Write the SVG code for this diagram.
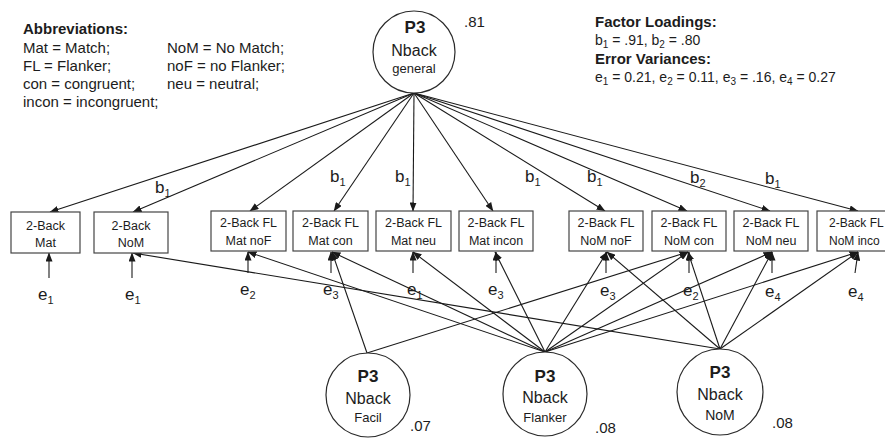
<svg xmlns="http://www.w3.org/2000/svg" width="885" height="439" viewBox="0 0 885 439">
  <defs>
    <marker id="ah" markerUnits="userSpaceOnUse" markerWidth="9" markerHeight="7" refX="8.5" refY="3.5" orient="auto">
      <path d="M0,0 L9,3.5 L0,7 Z" fill="#1a1a1a"/>
    </marker>
  </defs>
  <style>
    text{font-family:"Liberation Sans",Arial,sans-serif;fill:#1c1c1c}
    .hd{font-weight:bold;font-size:15px}
    .ab{font-size:15px}
    .ld{font-size:14px}
    .sub{font-size:10px}
    .fac{fill:#fff;stroke:#2a2a2a;stroke-width:1.2}
    .box{fill:#fff;stroke:#454545;stroke-width:1.2}
    .bx{font-size:12.5px;text-anchor:middle}
    .cn line{stroke:#1a1a1a;stroke-width:1.1;marker-end:url(#ah)}
    .p3{font-weight:bold;font-size:17px;text-anchor:middle}
    .nb{font-size:16px;text-anchor:middle}
    .sm{font-size:13px;text-anchor:middle}
    .var{font-size:15px}
    .lbl{font-size:17px}
    .ls{font-size:11px}
  </style>

  <!-- legend: abbreviations -->
  <g id="legend-abbreviations">
    <text class="hd" x="23" y="34">Abbreviations:</text>
    <text class="ab" x="23" y="53">Mat = Match;</text>
    <text class="ab" x="23" y="71">FL = Flanker;</text>
    <text class="ab" x="23" y="89">con = congruent;</text>
    <text class="ab" x="23" y="107">incon = incongruent;</text>
    <text class="ab" x="167" y="53">NoM = No Match;</text>
    <text class="ab" x="167" y="71">noF = no Flanker;</text>
    <text class="ab" x="167" y="89">neu = neutral;</text>
  </g>

  <!-- legend: parameter estimates -->
  <g id="legend-estimates">
    <text class="hd" x="595" y="27">Factor Loadings:</text>
    <text class="ld" x="595" y="45">b<tspan class="sub" dy="3">1</tspan><tspan dy="-3"> = .91, b</tspan><tspan class="sub" dy="3">2</tspan><tspan dy="-3"> = .80</tspan></text>
    <text class="hd" x="595" y="64">Error Variances:</text>
    <text class="ld" x="595" y="82">e<tspan class="sub" dy="3">1</tspan><tspan dy="-3"> = 0.21, e</tspan><tspan class="sub" dy="3">2</tspan><tspan dy="-3"> = 0.11, e</tspan><tspan class="sub" dy="3">3</tspan><tspan dy="-3"> = .16, e</tspan><tspan class="sub" dy="3">4</tspan><tspan dy="-3"> = 0.27</tspan></text>
  </g>

  <!-- paths: factors to indicators, error terms to indicators -->
  <g id="connectors" class="cn">
    <!-- general factor loadings -->
    <line x1="414" y1="93" x2="50" y2="212"/>
    <line x1="414" y1="93" x2="133" y2="212"/>
    <line x1="414" y1="93" x2="250" y2="211"/>
    <line x1="414" y1="93" x2="334" y2="211"/>
    <line x1="414" y1="93" x2="413" y2="211"/>
    <line x1="414" y1="93" x2="493" y2="211"/>
    <line x1="414" y1="93" x2="605" y2="211"/>
    <line x1="414" y1="93" x2="687" y2="211"/>
    <line x1="414" y1="93" x2="770" y2="211"/>
    <line x1="414" y1="93" x2="858" y2="211"/>
    <!-- facilitation factor -->
    <line x1="367" y1="353" x2="332" y2="252"/>
    <line x1="367" y1="353" x2="688" y2="252"/>
    <!-- flanker factor -->
    <line x1="545" y1="352" x2="248" y2="252"/>
    <line x1="545" y1="352" x2="332" y2="252"/>
    <line x1="545" y1="352" x2="413" y2="252"/>
    <line x1="545" y1="352" x2="495" y2="252"/>
    <line x1="545" y1="352" x2="607" y2="252"/>
    <line x1="545" y1="352" x2="688" y2="252"/>
    <line x1="545" y1="352" x2="772" y2="252"/>
    <line x1="545" y1="352" x2="858" y2="252"/>
    <!-- no-match factor -->
    <line x1="720" y1="349" x2="133" y2="253"/>
    <line x1="720" y1="349" x2="607" y2="252"/>
    <line x1="720" y1="349" x2="688" y2="252"/>
    <line x1="720" y1="349" x2="772" y2="252"/>
    <line x1="720" y1="349" x2="858" y2="252"/>
    <!-- error terms -->
    <line x1="49" y1="278" x2="49" y2="253"/>
    <line x1="132" y1="278" x2="132" y2="253"/>
    <line x1="248" y1="273" x2="248" y2="252"/>
    <line x1="331" y1="273" x2="331" y2="252"/>
    <line x1="413" y1="273" x2="413" y2="252"/>
    <line x1="496" y1="273" x2="496" y2="252"/>
    <line x1="606" y1="273" x2="606" y2="252"/>
    <line x1="689" y1="273" x2="689" y2="252"/>
    <line x1="772" y1="273" x2="772" y2="252"/>
    <line x1="855" y1="273" x2="858" y2="252"/>
  </g>

  <!-- loading labels -->
  <g id="loading-labels" class="lbl">
    <text x="155" y="193">b<tspan class="ls" dy="4">1</tspan></text>
    <text x="330" y="182">b<tspan class="ls" dy="4">1</tspan></text>
    <text x="395" y="182">b<tspan class="ls" dy="4">1</tspan></text>
    <text x="525" y="182">b<tspan class="ls" dy="4">1</tspan></text>
    <text x="587" y="182">b<tspan class="ls" dy="4">1</tspan></text>
    <text x="690" y="183">b<tspan class="ls" dy="4">2</tspan></text>
    <text x="765" y="184">b<tspan class="ls" dy="4">1</tspan></text>
  </g>

  <!-- error labels -->
  <g id="error-labels" class="lbl">
    <text x="38" y="300">e<tspan class="ls" dy="4">1</tspan></text>
    <text x="125" y="300">e<tspan class="ls" dy="4">1</tspan></text>
    <text x="240" y="295">e<tspan class="ls" dy="4">2</tspan></text>
    <text x="323" y="295">e<tspan class="ls" dy="4">3</tspan></text>
    <text x="407" y="295">e<tspan class="ls" dy="4">1</tspan></text>
    <text x="488" y="295">e<tspan class="ls" dy="4">3</tspan></text>
    <text x="600" y="296">e<tspan class="ls" dy="4">3</tspan></text>
    <text x="683" y="296">e<tspan class="ls" dy="4">2</tspan></text>
    <text x="765" y="297">e<tspan class="ls" dy="4">4</tspan></text>
    <text x="848" y="297">e<tspan class="ls" dy="4">4</tspan></text>
  </g>

  <!-- latent factors -->
  <g id="factor-general">
    <circle class="fac" cx="414" cy="52" r="41"/>
    <text class="p3" x="415" y="33">P3</text>
    <text class="nb" x="414" y="56">Nback</text>
    <text class="sm" x="414" y="73">general</text>
    <text class="var" x="464" y="27">.81</text>
  </g>
  <g id="factor-facil">
    <circle class="fac" cx="368" cy="395" r="42"/>
    <text class="p3" x="368" y="382">P3</text>
    <text class="nb" x="368" y="404">Nback</text>
    <text class="sm" x="368" y="422">Facil</text>
    <text class="var" x="410" y="431">.07</text>
  </g>
  <g id="factor-flanker">
    <circle class="fac" cx="545" cy="394" r="42"/>
    <text class="p3" x="545" y="382">P3</text>
    <text class="nb" x="545" y="403">Nback</text>
    <text class="sm" x="545" y="422">Flanker</text>
    <text class="var" x="595" y="433">.08</text>
  </g>
  <g id="factor-nom">
    <circle class="fac" cx="720" cy="392" r="43"/>
    <text class="p3" x="720" y="378">P3</text>
    <text class="nb" x="720" y="400">Nback</text>
    <text class="nb" x="720" y="420" style="font-size:14px">NoM</text>
    <text class="var" x="772" y="428">.08</text>
  </g>

  <!-- observed indicators -->
  <g id="ind-mat">
    <rect class="box" x="11" y="212" width="69" height="41"/>
    <text class="bx" x="45.5" y="230">2-Back</text>
    <text class="bx" x="45.5" y="247">Mat</text>
  </g>
  <g id="ind-nom">
    <rect class="box" x="94" y="212" width="74" height="41"/>
    <text class="bx" x="131" y="230">2-Back</text>
    <text class="bx" x="131" y="247">NoM</text>
  </g>
  <g id="ind-mat-nof">
    <rect class="box" x="211" y="211" width="75" height="40"/>
    <text class="bx" x="248.5" y="227">2-Back FL</text>
    <text class="bx" x="248.5" y="245">Mat noF</text>
  </g>
  <g id="ind-mat-con">
    <rect class="box" x="293" y="211" width="75" height="40"/>
    <text class="bx" x="330.5" y="227">2-Back FL</text>
    <text class="bx" x="330.5" y="245">Mat con</text>
  </g>
  <g id="ind-mat-neu">
    <rect class="box" x="376" y="211" width="75" height="40"/>
    <text class="bx" x="413.5" y="227">2-Back FL</text>
    <text class="bx" x="413.5" y="245">Mat neu</text>
  </g>
  <g id="ind-mat-incon">
    <rect class="box" x="459" y="211" width="74" height="40"/>
    <text class="bx" x="496" y="227">2-Back FL</text>
    <text class="bx" x="496" y="245">Mat incon</text>
  </g>
  <g id="ind-nom-nof">
    <rect class="box" x="569" y="211" width="74" height="40"/>
    <text class="bx" x="606" y="227">2-Back FL</text>
    <text class="bx" x="606" y="245">NoM noF</text>
  </g>
  <g id="ind-nom-con">
    <rect class="box" x="652" y="211" width="74" height="40"/>
    <text class="bx" x="689" y="227">2-Back FL</text>
    <text class="bx" x="689" y="245">NoM con</text>
  </g>
  <g id="ind-nom-neu">
    <rect class="box" x="734" y="211" width="74" height="40"/>
    <text class="bx" x="771" y="227">2-Back FL</text>
    <text class="bx" x="771" y="245">NoM neu</text>
  </g>
  <g id="ind-nom-incon">
    <rect class="box" x="817" y="211" width="80" height="40"/>
    <text class="bx" x="829" y="227" style="text-anchor:start;font-size:12px">2-Back FL</text>
    <text class="bx" x="829" y="245" style="text-anchor:start;font-size:12px">NoM inco</text>
  </g>
</svg>
